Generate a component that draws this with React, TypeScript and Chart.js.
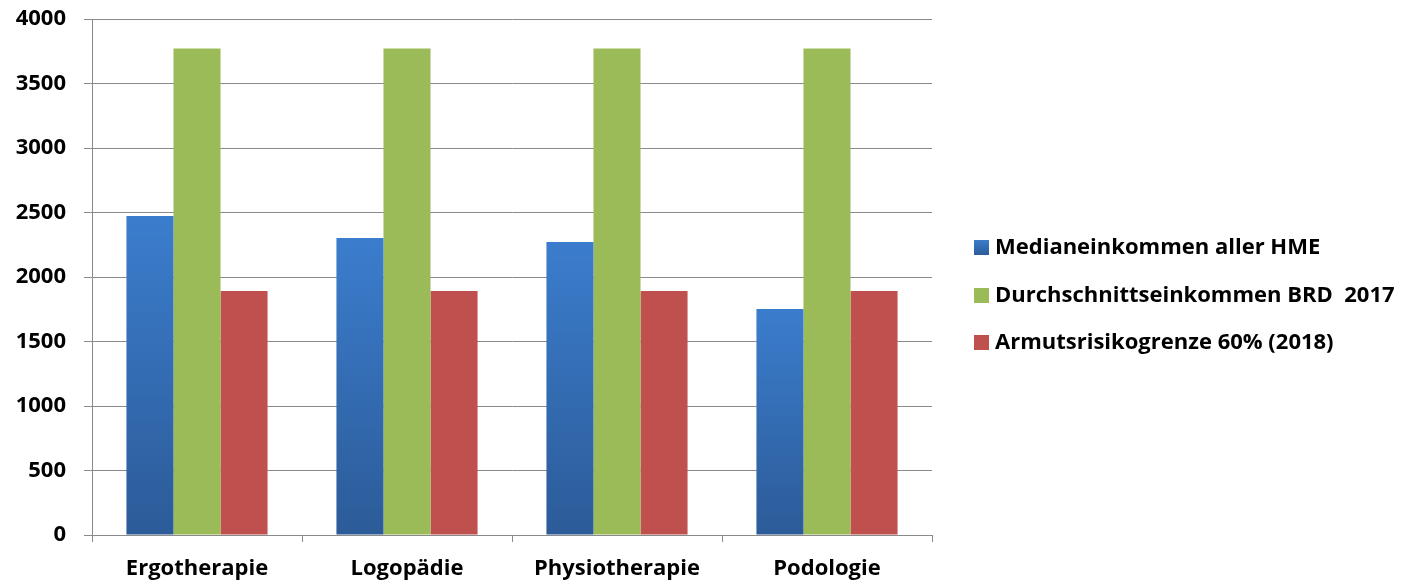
import React, { useEffect, useRef } from "react";
import { Chart, registerables } from "chart.js";

Chart.register(...registerables);

const categories = ["Ergotherapie", "Logopädie", "Physiotherapie", "Podologie"];
const seriesNames = [
  "Medianeinkommen aller HME",
  "Durchschnittseinkommen BRD  2017",
  "Armutsrisikogrenze 60% (2018)",
];
const medianValues = [2473, 2302, 2271, 1752];
const durchschnittValues = [3771, 3771, 3771, 3771];
const armutValues = [1891, 1891, 1891, 1891];
const yMin = 0;
const yMax = 4000;
const yStep = 500;

const FONT = '"Open Sans", "Noto Sans", sans-serif';
const GRID = "#8a8a8a";
const BLUE_TOP = "#3b7dcd";
const BLUE_BOTTOM = "#2c5b98";
const GREEN = "#9bbb59";
const RED = "#c0504d";

export default function App() {
  const ref = useRef<HTMLCanvasElement | null>(null);

  useEffect(() => {
    if (!ref.current) return;
    const blueGradient = (ctx: any) => {
      const chart = ctx.chart;
      const area = chart.chartArea;
      const ys = chart.scales?.y;
      if (!area || !ys || ctx.raw == null) return BLUE_TOP;
      const top = ys.getPixelForValue(ctx.raw);
      const g = chart.ctx.createLinearGradient(0, top, 0, area.bottom);
      g.addColorStop(0, BLUE_TOP);
      g.addColorStop(1, BLUE_BOTTOM);
      return g;
    };

    const legendPlugin = {
      id: "customLegend",
      afterDraw(chart: any) {
        const c = chart.ctx;
        const colors = [BLUE_TOP, GREEN, RED];
        const rows = [247, 295, 342];
        c.save();
        c.font = `bold 22px ${FONT}`;
        c.textBaseline = "middle";
        c.textAlign = "left";
        seriesNames.forEach((name, i) => {
          if (i === 0) {
            const g = c.createLinearGradient(0, rows[i] - 7, 0, rows[i] + 8);
            g.addColorStop(0, BLUE_TOP);
            g.addColorStop(1, BLUE_BOTTOM);
            c.fillStyle = g;
          } else {
            c.fillStyle = colors[i];
          }
          c.fillRect(974, rows[i] - 7, 15, 15);
          c.fillStyle = "#000";
          c.fillText(name, 995, rows[i] + 1);
        });
        c.restore();
      },
    };

    const chart = new Chart(ref.current, {
      type: "bar",
      data: {
        labels: categories,
        datasets: [
          { label: seriesNames[0], data: medianValues, backgroundColor: blueGradient as any },
          { label: seriesNames[1], data: durchschnittValues, backgroundColor: GREEN },
          { label: seriesNames[2], data: armutValues, backgroundColor: RED },
        ],
      },
      options: {
        responsive: false,
        animation: false,
        devicePixelRatio: 1,
        layout: { padding: { top: 19, right: 472, left: 0, bottom: 0 } },
        plugins: {
          legend: { display: false },
          tooltip: { enabled: false },
        },
        datasets: {
          bar: { categoryPercentage: 0.672, barPercentage: 1 },
        },
        scales: {
          x: {
            offset: true,
            grid: {
              offset: true,
              drawOnChartArea: false,
              drawTicks: true,
              tickLength: 7,
              color: GRID,
            },
            border: { display: true, color: GRID },
            ticks: {
              color: "#000",
              font: { family: FONT, size: 22, weight: "bold" },
              padding: 14,
              maxRotation: 0,
            },
            afterFit: (s: any) => {
              s.height = 47;
              s.paddingLeft = 0;
              s.paddingRight = 0;
            },
          },
          y: {
            min: yMin,
            max: yMax,
            grid: { color: GRID, tickLength: 8, drawTicks: true },
            border: { display: true, color: GRID },
            ticks: {
              stepSize: yStep,
              color: "#000",
              font: { family: FONT, size: 22, weight: "bold" },
              padding: 18,
              callback: (v: any) => String(v),
            },
            afterFit: (s: any) => {
              s.width = 92;
              s.paddingTop = 0;
              s.paddingBottom = 0;
            },
          },
        },
      },
      plugins: [legendPlugin],
    });
    return () => chart.destroy();
  }, []);

  return (
    <div style={{ position: "absolute", left: 0, top: 0, width: 1404, height: 582, background: "#fff" }}>
      <canvas ref={ref} width={1404} height={582} style={{ display: "block" }} />
    </div>
  );
}
